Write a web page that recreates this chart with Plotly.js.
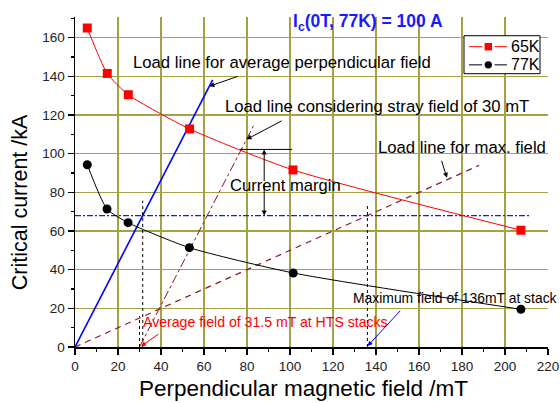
<!DOCTYPE html>
<html>
<head>
<meta charset="utf-8">
<script src="https://cdn.plot.ly/plotly-3.0.1.min.js"></script>
<style>
  html, body { margin: 0; padding: 0; background: #ffffff; }
  #chart { width: 560px; height: 403px; }
</style>
</head>
<body>
<div id="chart"></div>
<script>
// Critical current of the stacks at 65 K and 77 K versus perpendicular field
var seriesNames = ['65K', '77K'];
var field65 = [5.7, 15.0, 24.8, 53.3, 101.4, 207.4];
var current65 = [165.0, 141.5, 130.5, 112.8, 91.6, 60.4];
var field77 = [5.7, 14.9, 24.7, 53.2, 101.5, 207.4];
var current77 = [94.3, 71.4, 64.3, 51.4, 38.3, 19.5];

// Load lines (end points, mT / kA)
var loadAvgX = [0, 64];
var loadAvgY = [0, 138.2];
var loadStrayX = [30, 83];
var loadStrayY = [0, 114.4];
var loadMaxX = [0, 188];
var loadMaxY = [0, 94];

// Operating current level and reference fields
var opLevelX = [0, 212];
var opLevelY = [68, 68];
var avgFieldX = [31.5, 31.5];
var avgFieldY = [0, 75.7];
var strayStartX = [30, 30];
var strayStartY = [0, 16];
var maxFieldX = [136, 136];
var maxFieldY = [0, 73.4];
var marginTopX = [76.5, 101];
var marginTopY = [102.2, 102.2];

var xTickVals = [0, 20, 40, 60, 80, 100, 120, 140, 160, 180, 200, 220];
var yTickVals = [0, 20, 40, 60, 80, 100, 120, 140, 160];

var seriesColors = ['#ff0000', '#000000'];
var darkRed = '#8b1a1a';
var font = 'Liberation Sans, Arial, sans-serif';

function line(x, y, color, width, dash) {
  return {
    x: x, y: y, type: 'scatter', mode: 'lines', showlegend: false,
    hoverinfo: 'skip', line: {color: color, width: width, dash: dash || 'solid'}
  };
}

var traces = [
  line(loadAvgX, loadAvgY, '#0000ff', 1.6),
  line(loadStrayX, loadStrayY, darkRed, 1, 'dashdot'),
  line(loadMaxX, loadMaxY, darkRed, 1.2, '6px,5px'),
  line(opLevelX, opLevelY, '#1a1ae6', 1.2, '6px,2px,2px,2px'),
  line(avgFieldX, avgFieldY, '#000000', 1, 'dot'),
  line(strayStartX, strayStartY, '#000000', 1, 'dot'),
  line(maxFieldX, maxFieldY, '#000000', 1, 'dot'),
  line(marginTopX, marginTopY, '#000000', 1),
  {
    x: field65, y: current65, name: seriesNames[0], type: 'scatter', mode: 'lines+markers',
    showlegend: false,
    line: {color: seriesColors[0], width: 1, shape: 'spline', smoothing: 0.6},
    marker: {symbol: 'square', size: 9, color: seriesColors[0]}
  },
  {
    x: field77, y: current77, name: seriesNames[1], type: 'scatter', mode: 'lines+markers',
    showlegend: false,
    line: {color: seriesColors[1], width: 1, shape: 'spline', smoothing: 0.6},
    marker: {symbol: 'circle', size: 9, color: seriesColors[1]}
  }
];

function note(text, x, y, size, color) {
  return {
    text: text, x: x, y: y, xref: 'x', yref: 'y', showarrow: false,
    font: {family: font, size: size, color: color || '#000000'},
    xanchor: 'center', yanchor: 'middle'
  };
}

function arrow(tailX, tailY, headX, headY, color) {
  return {
    text: '', x: headX, y: headY, ax: tailX, ay: tailY,
    xref: 'x', yref: 'y', axref: 'x', ayref: 'y',
    showarrow: true, arrowhead: 2, arrowsize: 1, arrowwidth: 1,
    arrowcolor: color || '#000000', standoff: 0, startstandoff: 0
  };
}

var annotations = [
  {
    text: '<b>I<sub>c</sub>(0T, 77K) = 100 A</b>',
    xref: 'paper', yref: 'paper', x: 0.457, y: 0.982,
    xanchor: 'left', yanchor: 'middle', showarrow: false,
    font: {family: font, size: 17.5, color: '#1a1aff'}
  },
  {
    text: 'Perpendicular magnetic field /mT',
    xref: 'paper', yref: 'paper', x: 0.484, y: -0.127,
    xanchor: 'center', yanchor: 'middle', showarrow: false,
    font: {family: font, size: 22.5, color: '#000000'}
  },
  {
    text: 'Critical current /kA', textangle: -90,
    xref: 'paper', yref: 'paper', x: -0.116, y: 0.439,
    xanchor: 'center', yanchor: 'middle', showarrow: false,
    font: {family: font, size: 21.5, color: '#000000'}
  },
  note('Load line for average perpendicular field', 96.3, 147.4, 16.7),
  note('Load line considering stray field of 30 mT', 140.5, 124.2, 16.7),
  note('Load line for max. field', 179.9, 103.3, 16.7),
  note('Current margin', 97.7, 83.8, 16.6),
  note('Maximum field of 136mT at stack', 176.7, 25.2, 13.9),
  note('Average field of 31.5 mT at HTS stacks', 88.8, 13.1, 14.1, '#ff0000'),
  arrow(76.3, 140.2, 62.5, 134.9),
  arrow(96.9, 117.4, 79.8, 107.4),
  arrow(170.3, 97.1, 173, 87.5),
  arrow(88, 85, 88, 102.2),
  arrow(88, 85, 88, 68),
  arrow(39.5, 7.2, 30.7, 0.4, '#ff0000'),
  arrow(151.9, 19.5, 136.1, 0.5, '#0000ff')
];

// Legend box drawn in paper coordinates
var legendRows = [0.910, 0.855];
var shapes = [
  {type: 'rect', xref: 'paper', yref: 'paper', x0: 0.8224, x1: 0.9831, y0: 0.8282, y1: 0.9433,
   line: {color: '#000000', width: 1}, fillcolor: '#ffffff', layer: 'above'}
];
seriesNames.forEach(function (name, i) {
  var yc = legendRows[i];
  shapes.push({type: 'line', xref: 'paper', yref: 'paper', x0: 0.8330, x1: 0.8610, y0: yc, y1: yc,
    line: {color: seriesColors[i], width: 1}, layer: 'above'});
  shapes.push({type: 'line', xref: 'paper', yref: 'paper', x0: 0.8870, x1: 0.9133, y0: yc, y1: yc,
    line: {color: seriesColors[i], width: 1}, layer: 'above'});
  var dx = 0.0078, dy = 0.0112;
  shapes.push({type: i === 0 ? 'rect' : 'circle', xref: 'paper', yref: 'paper',
    x0: 0.8738 - dx, x1: 0.8738 + dx, y0: yc - dy, y1: yc + dy,
    line: {color: seriesColors[i], width: 0}, fillcolor: seriesColors[i], layer: 'above'});
  annotations.push({
    text: name, xref: 'paper', yref: 'paper', x: 0.9185, y: yc,
    xanchor: 'left', yanchor: 'middle', showarrow: false,
    font: {family: font, size: 16, color: '#000000'}
  });
});

var gridColor = '#a3a345';

var layout = {
  width: 560, height: 403,
  margin: {l: 75, r: 12, t: 17, b: 56},
  paper_bgcolor: '#ffffff', plot_bgcolor: '#ffffff',
  font: {family: font, size: 13, color: '#000000'},
  showlegend: false,
  xaxis: {
    range: [0, 220], tickvals: xTickVals, ticktext: xTickVals.map(String),
    showline: true, linecolor: '#000000', linewidth: 1.5,
    ticks: 'outside', ticklen: 6, tickwidth: 1.2, tickcolor: '#000000',
    minor: {dtick: 10, tick0: 0, ticks: 'outside', ticklen: 3, tickcolor: '#000000', showgrid: false},
    showgrid: true, gridcolor: gridColor, gridwidth: 1.5,
    zeroline: false, tickfont: {family: font, size: 13.5, color: '#222222'}
  },
  yaxis: {
    range: [0, 170.7], tickvals: yTickVals, ticktext: yTickVals.map(String),
    showline: true, linecolor: '#000000', linewidth: 1.5,
    ticks: 'outside', ticklen: 6, tickwidth: 1.2, tickcolor: '#000000',
    minor: {dtick: 10, tick0: 0, ticks: 'outside', ticklen: 3, tickcolor: '#000000', showgrid: false},
    showgrid: true, gridcolor: gridColor, gridwidth: 1.5,
    zeroline: false, tickfont: {family: font, size: 13.5, color: '#222222'}
  },
  shapes: shapes,
  annotations: annotations
};

Plotly.newPlot('chart', traces, layout, {displayModeBar: false, staticPlot: true});
</script>
</body>
</html>
